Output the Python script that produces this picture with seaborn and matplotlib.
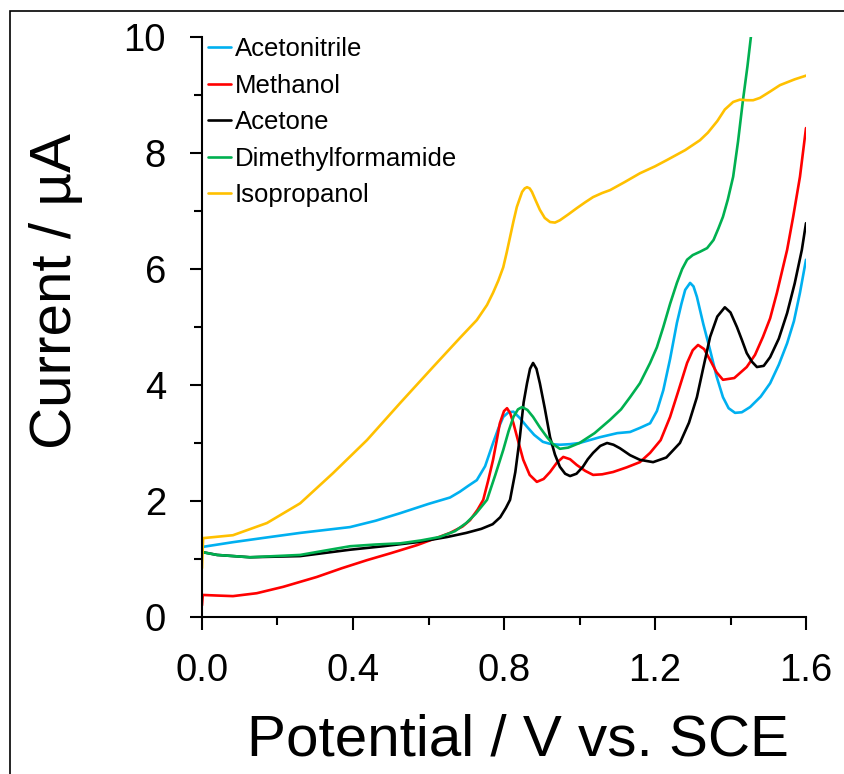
import matplotlib
matplotlib.use("Agg")
import matplotlib.pyplot as plt
import matplotlib.patches as mpatches
from matplotlib.ticker import MultipleLocator, FormatStrFormatter
import seaborn as sns
import pandas as pd

series_names = ["Acetonitrile", "Methanol", "Acetone", "Dimethylformamide", "Isopropanol"]
series_colors = ["#00B0F0", "#FF0000", "#000000", "#00B050", "#FFC000"]

acn_x = [0, 0.003, 0.082, 0.17, 0.26, 0.392, 0.46, 0.525, 0.6, 0.657, 0.683, 0.705, 0.728, 0.75, 0.771,
         0.785, 0.798, 0.812, 0.825, 0.842, 0.861, 0.88, 0.903, 0.925, 0.948, 0.975, 1.0, 1.054, 1.1, 1.134,
         1.16, 1.187, 1.205, 1.222, 1.24, 1.258, 1.27, 1.28, 1.293, 1.302, 1.311, 1.328, 1.346, 1.363, 1.38,
         1.395, 1.412, 1.43, 1.452, 1.48, 1.505, 1.528, 1.55, 1.568, 1.584, 1.6]
acn_y = [1.15, 1.21, 1.29, 1.37, 1.45, 1.55, 1.66, 1.79, 1.95, 2.06, 2.16, 2.26, 2.36, 2.6, 3.0,
         3.25, 3.45, 3.53, 3.54, 3.43, 3.28, 3.14, 3.02, 2.98, 2.97, 2.98, 3.0, 3.1, 3.17, 3.19,
         3.26, 3.34, 3.55, 3.91, 4.45, 5.07, 5.4, 5.64, 5.76, 5.7, 5.52, 5.05, 4.6, 4.15, 3.79,
         3.6, 3.52, 3.53, 3.62, 3.8, 4.03, 4.35, 4.72, 5.1, 5.59, 6.16]

meoh_x = [0, 0.002, 0.04, 0.082, 0.145, 0.215, 0.304, 0.37, 0.437, 0.5, 0.57, 0.62, 0.657, 0.69, 0.71,
          0.73, 0.745, 0.758, 0.771, 0.78, 0.789, 0.8, 0.808, 0.816, 0.825, 0.838, 0.851, 0.868, 0.887, 0.905,
          0.922, 0.94, 0.957, 0.975, 0.993, 1.015, 1.036, 1.06, 1.089, 1.125, 1.16, 1.187, 1.215, 1.24, 1.262,
          1.285, 1.3, 1.314, 1.33, 1.346, 1.363, 1.38, 1.41, 1.443, 1.465, 1.486, 1.505, 1.523, 1.55, 1.566,
          1.584, 1.6]
meoh_y = [0.2, 0.38, 0.37, 0.36, 0.41, 0.52, 0.69, 0.84, 0.98, 1.1, 1.24, 1.36, 1.45, 1.56, 1.67,
          1.85, 2.02, 2.35, 2.71, 3.02, 3.34, 3.55, 3.6, 3.52, 3.34, 3.02, 2.71, 2.45, 2.33, 2.38,
          2.5, 2.66, 2.76, 2.72, 2.62, 2.52, 2.45, 2.46, 2.5, 2.58, 2.67, 2.83, 3.05, 3.45, 3.9,
          4.38, 4.6, 4.69, 4.62, 4.43, 4.22, 4.09, 4.12, 4.31, 4.52, 4.83, 5.15, 5.59, 6.33, 6.9,
          7.59, 8.43]

acetone_x = [0, 0.04, 0.127, 0.26, 0.392, 0.48, 0.57, 0.65, 0.7, 0.74, 0.77, 0.79, 0.805, 0.816, 0.83,
             0.842, 0.852, 0.861, 0.869, 0.877, 0.886, 0.895, 0.908, 0.922, 0.935, 0.948, 0.962, 0.975, 0.992, 1.009,
             1.022, 1.036, 1.055, 1.073, 1.09, 1.107, 1.134, 1.16, 1.195, 1.23, 1.266, 1.29, 1.311, 1.328, 1.346,
             1.365, 1.385, 1.4, 1.417, 1.43, 1.443, 1.457, 1.47, 1.488, 1.505, 1.528, 1.55, 1.57, 1.589, 1.6]
acetone_y = [1.12, 1.07, 1.03, 1.05, 1.16, 1.22, 1.29, 1.38, 1.45, 1.52, 1.6, 1.72, 1.88, 2.02, 2.5,
             3.1, 3.7, 4.03, 4.28, 4.38, 4.28, 4.03, 3.6, 3.1, 2.8, 2.59, 2.47, 2.43, 2.47, 2.59,
             2.72, 2.83, 2.95, 3.0, 2.97, 2.91, 2.79, 2.71, 2.67, 2.75, 3.0, 3.35, 3.79, 4.3, 4.83,
             5.18, 5.34, 5.25, 5.0, 4.78, 4.55, 4.4, 4.31, 4.33, 4.48, 4.8, 5.24, 5.75, 6.33, 6.79]

dmf_x = [0, 0.04, 0.127, 0.26, 0.33, 0.392, 0.46, 0.525, 0.58, 0.63, 0.67, 0.7, 0.725, 0.755, 0.777,
         0.798, 0.812, 0.825, 0.837, 0.848, 0.862, 0.877, 0.895, 0.914, 0.93, 0.948, 0.97, 1.0, 1.04, 1.081,
         1.11, 1.134, 1.16, 1.187, 1.205, 1.222, 1.24, 1.258, 1.272, 1.285, 1.3, 1.32, 1.338, 1.355, 1.368,
         1.38, 1.393, 1.407, 1.42, 1.433, 1.445, 1.454]
dmf_y = [1.12, 1.07, 1.03, 1.07, 1.15, 1.22, 1.25, 1.27, 1.32, 1.38, 1.48, 1.62, 1.78, 2.02, 2.45,
         2.88, 3.2, 3.45, 3.58, 3.62, 3.57, 3.45, 3.27, 3.1, 2.98, 2.9, 2.92, 3.0, 3.17, 3.4,
         3.58, 3.79, 4.03, 4.38, 4.65, 5.0, 5.4, 5.76, 6.0, 6.16, 6.24, 6.3, 6.36, 6.5, 6.7,
         6.9, 7.2, 7.59, 8.2, 8.91, 9.5, 10.0]

ipa_x = [0, 0.003, 0.082, 0.172, 0.26, 0.347, 0.437, 0.525, 0.612, 0.683, 0.728, 0.755, 0.771, 0.785, 0.798,
         0.807, 0.816, 0.825, 0.834, 0.842, 0.848, 0.855, 0.861, 0.868, 0.874, 0.884, 0.895, 0.908, 0.922, 0.935,
         0.948, 0.97, 0.993, 1.015, 1.036, 1.06, 1.081, 1.12, 1.16, 1.2, 1.232, 1.28, 1.319, 1.34, 1.365,
         1.385, 1.407, 1.425, 1.443, 1.46, 1.478, 1.505, 1.531, 1.57, 1.603]
ipa_y = [0.84, 1.36, 1.41, 1.62, 1.96, 2.48, 3.05, 3.69, 4.31, 4.81, 5.12, 5.38, 5.59, 5.8, 6.03,
         6.28, 6.55, 6.82, 7.07, 7.22, 7.33, 7.39, 7.41, 7.39, 7.33, 7.18, 7.02, 6.88, 6.81, 6.8,
         6.84, 6.94, 7.05, 7.15, 7.24, 7.31, 7.36, 7.5, 7.65, 7.77, 7.88, 8.05, 8.22, 8.35, 8.55,
         8.75, 8.88, 8.92, 8.91, 8.91, 8.95, 9.06, 9.17, 9.27, 9.34]

x_ticks = [0.0, 0.4, 0.8, 1.2, 1.6]
y_ticks = [0, 2, 4, 6, 8, 10]

xs = [acn_x, meoh_x, acetone_x, dmf_x, ipa_x]
ys = [acn_y, meoh_y, acetone_y, dmf_y, ipa_y]

frames = []
for name, x, y in zip(series_names, xs, ys):
    frames.append(pd.DataFrame({"Potential": x, "Current": y, "Solvent": name}))
df = pd.concat(frames, ignore_index=True)

sns.set_theme(style="white")
plt.rcParams["font.family"] = ["Liberation Sans", "DejaVu Sans"]
plt.rcParams["text.color"] = "black"
plt.rcParams["axes.labelcolor"] = "black"
plt.rcParams["xtick.color"] = "black"
plt.rcParams["ytick.color"] = "black"

fig = plt.figure(figsize=(8.45, 7.74), dpi=100)
ax = fig.add_axes([202 / 845, 1 - 617 / 774, 604 / 845, 580 / 774])

sns.lineplot(data=df, x="Potential", y="Current", hue="Solvent", hue_order=series_names,
             palette=dict(zip(series_names, series_colors)), sort=False, estimator=None,
             linewidth=1.9, ax=ax)

ax.set_xlim(0, 1.6)
ax.set_ylim(0, 10)
ax.set_xticks(x_ticks)
ax.set_yticks(y_ticks)
ax.xaxis.set_minor_locator(MultipleLocator(0.2))
ax.yaxis.set_minor_locator(MultipleLocator(1))
ax.xaxis.set_major_formatter(FormatStrFormatter("%.1f"))

for s in ["top", "right"]:
    ax.spines[s].set_visible(False)
for s in ["left", "bottom"]:
    ax.spines[s].set_color("black")
    ax.spines[s].set_linewidth(1.5)

ax.tick_params(which="major", direction="out", length=9, width=1.5, color="black",
               labelcolor="black", labelsize=27.5, pad=17, left=True, bottom=True)
ax.tick_params(which="minor", direction="out", length=6, width=1.5, color="black",
               left=True, bottom=True)

ax.set_xlabel("Potential / V vs. SCE", fontsize=42, color="black")
ax.set_ylabel("Current / µA", fontsize=42, color="black")
ax.xaxis.set_label_coords(0.523, -0.167)
ax.yaxis.set_label_coords(-0.197, 0.562)

leg = ax.legend(loc="upper left", bbox_to_anchor=(6 / 604, (617 - 37) / 580), frameon=False,
                fontsize=18.5, handlelength=0.9, handletextpad=0.15, labelspacing=0.49,
                borderpad=0, borderaxespad=0)
for line in leg.get_lines():
    line.set_linewidth(1.9)
for t in leg.get_texts():
    t.set_color("black")

fig.patches.append(mpatches.Rectangle((10 / 845, -0.5), 2, 0.5 + 1 - 11 / 774,
                                      transform=fig.transFigure, fill=False,
                                      edgecolor="black", linewidth=1.2))

fig.savefig("out.png", dpi=100)
